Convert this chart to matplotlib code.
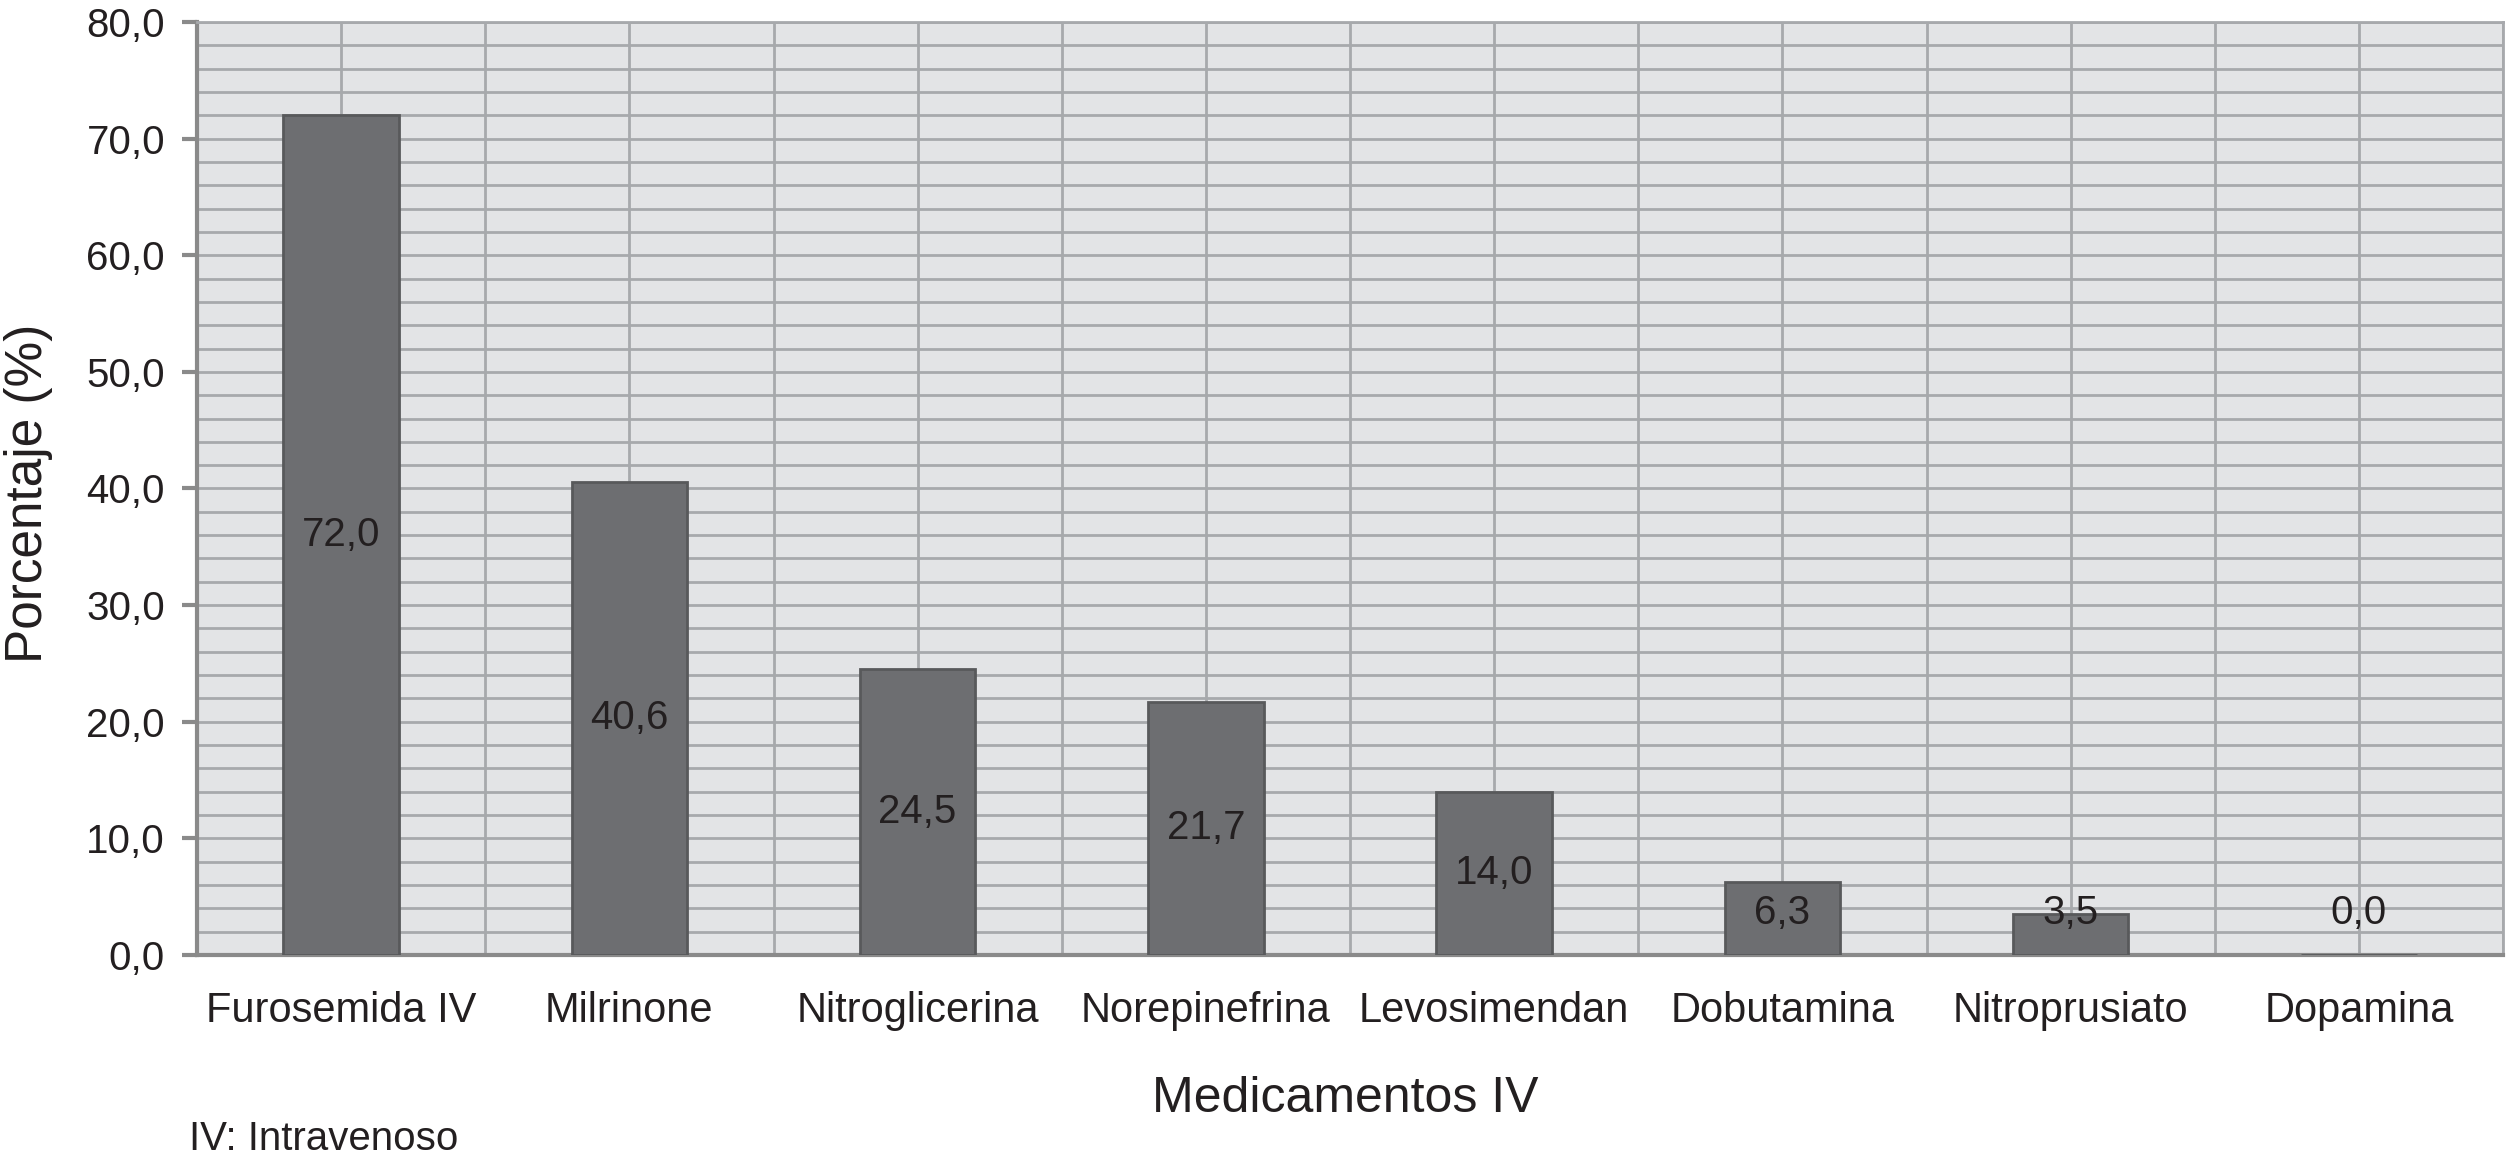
import matplotlib
matplotlib.use("Agg")
import matplotlib.pyplot as plt
import numpy as np

categories = ["Furosemida IV", "Milrinone", "Nitroglicerina", "Norepinefrina",
              "Levosimendan", "Dobutamina", "Nitroprusiato", "Dopamina"]
values = [72.0, 40.6, 24.5, 21.7, 14.0, 6.3, 3.5, 0.0]
y_ticks = [0, 10, 20, 30, 40, 50, 60, 70, 80]

plt.rcParams['font.family'] = ['Liberation Sans', 'DejaVu Sans']
txt = "#231f20"

W, H = 2507, 1160
fig = plt.figure(figsize=(W / 100, H / 100), dpi=100)
ax = fig.add_axes([197 / W, 1 - 955 / H, (2503 - 197) / W, (955 - 22) / H])
ax.set_facecolor("#e3e4e6")

x = np.arange(len(categories))
ax.bar(x, values, width=0.40, color="#6d6e71", edgecolor="#58595b", linewidth=2, zorder=3)

for xi, v in zip(x, values):
    ax.text(xi, max(v / 2, 3.6), f"{v:.1f}".replace(".", ","), ha="center", va="center",
            fontsize=29, color=txt, zorder=4)

ax.set_xlim(-0.5, len(categories) - 0.5)
ax.set_ylim(0, 80)
ax.set_yticks(y_ticks)
ax.set_yticklabels([f"{t:.1f}".replace(".", ",") for t in y_ticks], fontsize=29, color=txt)
ax.set_yticks(np.arange(0, 81, 2), minor=True)
ax.set_xticks(x)
ax.set_xticklabels(categories, fontsize=30, color=txt)
ax.set_xticks(np.arange(-0.5, len(categories), 1.0), minor=True)

ax.set_axisbelow(True)
gc = "#a7a9ac"
ax.grid(True, which="both", axis="both", color=gc, linewidth=2.0, zorder=0)

ax.tick_params(axis="y", which="major", length=11, width=3, color="#8a8a8a", pad=12)
ax.tick_params(axis="y", which="minor", length=0)
ax.tick_params(axis="x", which="both", length=0, pad=26)

for s in ["left", "bottom"]:
    ax.spines[s].set_color("#8a8a8a")
    ax.spines[s].set_linewidth(3)
for s in ["top", "right"]:
    ax.spines[s].set_color(gc)
    ax.spines[s].set_linewidth(2)

fig.text(42 / W, 1 - 493 / H, "Porcentaje (%)", fontsize=37, color=txt, rotation=90,
         rotation_mode="anchor", ha="center", va="baseline")
fig.text(1345 / W, 1 - 1112 / H, "Medicamentos IV", fontsize=36, color=txt,
         ha="center", va="baseline")
fig.text(189 / W, 1 - 1150 / H, "IV: Intravenoso", fontsize=29, color=txt,
         ha="left", va="baseline")

fig.savefig("out.png", dpi=100)
